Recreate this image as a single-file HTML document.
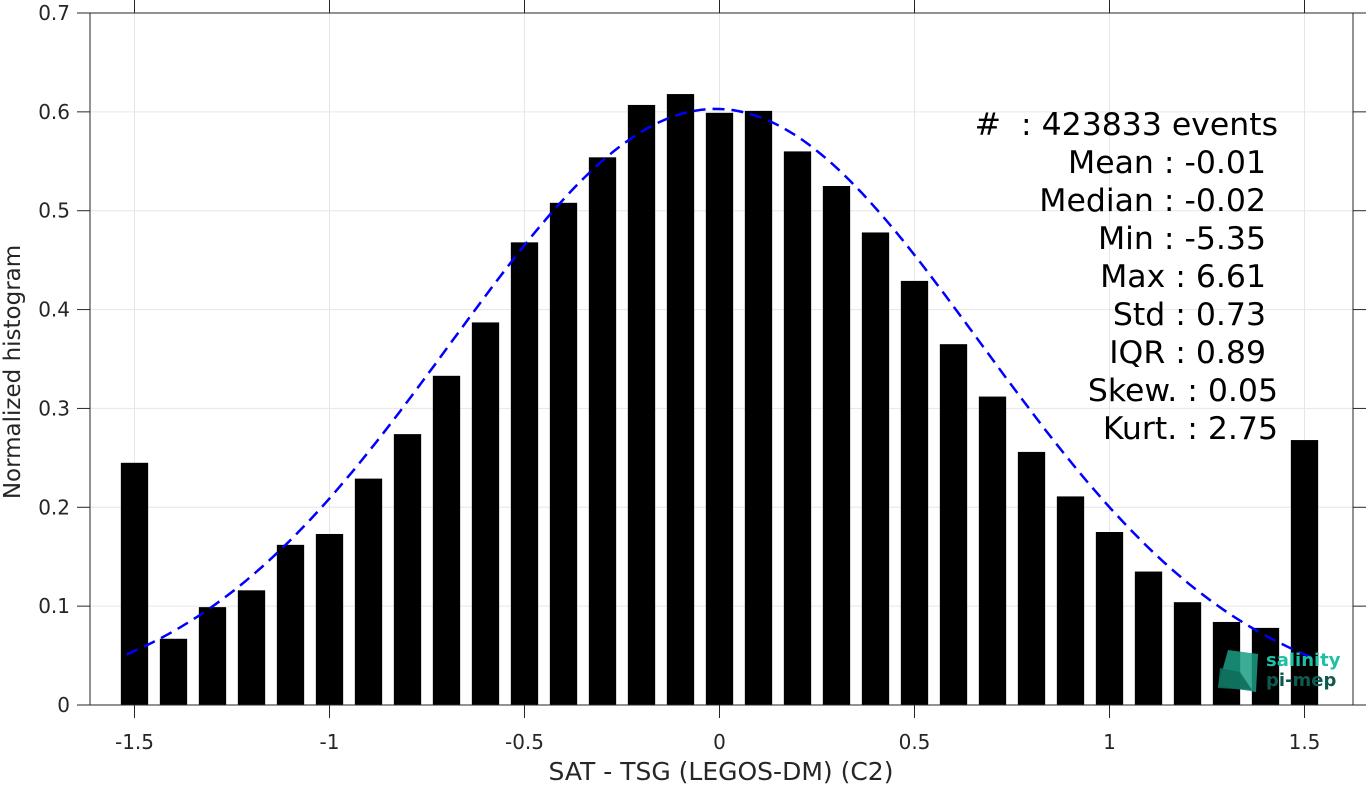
<!DOCTYPE html>
<html><head><meta charset="utf-8"><style>
html,body{margin:0;padding:0;background:#fff;}
svg{display:block;font-family:"DejaVu Sans","Liberation Sans",sans-serif;}
</style></head><body>
<svg id="chart" width="1367" height="785" viewBox="0 0 1367 785" xmlns="http://www.w3.org/2000/svg">
<g id="grid"></g>
<g id="bars"></g>
<path id="fit" fill="none" stroke="#0000ff" stroke-width="2.5" stroke-dasharray="12,7"/>
<g id="axes"></g>
<g font-size="31.5" fill="#000" text-anchor="end">
<text x="1278" y="135" style="white-space:pre">#  : 423833 events</text>
<text x="1266" y="173">Mean : -0.01</text>
<text x="1266" y="211">Median : -0.02</text>
<text x="1266" y="249">Min : -5.35</text>
<text x="1266" y="287">Max : 6.61</text>
<text x="1266" y="325">Std : 0.73</text>
<text x="1266" y="363">IQR : 0.89</text>
<text x="1278" y="401">Skew. : 0.05</text>
<text x="1278" y="439">Kurt. : 2.75</text>
</g>
<g>
<polygon points="1228,650 1258,654 1256,692 1218,686" fill="#1a9e85" opacity="0.85"/>
<polygon points="1220,668 1240,672 1252,690 1218,688" fill="#0f6e5c" opacity="0.9"/>
<text x="1266" y="666" font-size="18" font-weight="bold" fill="#1fbfa5">salinity</text>
<text x="1266" y="686" font-size="18" font-weight="bold" fill="#0f5a4e">pi-mep</text>
</g>
<text x="721" y="780" text-anchor="middle" font-size="25" fill="#262626">SAT - TSG (LEGOS-DM) (C2)</text>
<text transform="translate(20,372) rotate(-90)" text-anchor="middle" font-size="23" fill="#262626">Normalized histogram</text>
</svg>
<script>
const binCenters=[-1.5,-1.4,-1.3,-1.2,-1.1,-1.0,-0.9,-0.8,-0.7,-0.6,-0.5,-0.4,-0.3,-0.2,-0.1,0,0.1,0.2,0.3,0.4,0.5,0.6,0.7,0.8,0.9,1.0,1.1,1.2,1.3,1.4,1.5];
const binValues=[0.245,0.067,0.099,0.116,0.162,0.173,0.229,0.274,0.333,0.387,0.468,0.508,0.554,0.607,0.618,0.599,0.601,0.560,0.525,0.478,0.429,0.365,0.312,0.256,0.211,0.175,0.135,0.104,0.084,0.078,0.268];
const xTicks=[-1.5,-1,-0.5,0,0.5,1,1.5];
const xTickLabels=["-1.5","-1","-0.5","0","0.5","1","1.5"];
const yTicks=[0,0.1,0.2,0.3,0.4,0.5,0.6,0.7];
const yTickLabels=["0","0.1","0.2","0.3","0.4","0.5","0.6","0.7"];
const fitMean=-0.01, fitSigma=0.68, fitPeak=0.603, fitRange=[-1.52,1.52];

const L=90,R=1353,T=13,B=705;
const xs=v=>719.5+v*390;
const ys=v=>B-v*(B-T)/0.7;
const NS="http://www.w3.org/2000/svg";
function mk(tag,attrs,parent){const e=document.createElementNS(NS,tag);for(const k in attrs)e.setAttribute(k,attrs[k]);parent.appendChild(e);return e;}
const grid=document.getElementById('grid'),bars=document.getElementById('bars'),axes=document.getElementById('axes');
xTicks.forEach(t=>{const l=mk('line',{x1:xs(t),x2:xs(t),y1:T,y2:B,stroke:'#e6e6e6','stroke-width':1},grid);

});
yTicks.forEach(t=>{const l=mk('line',{x1:L,x2:R,y1:ys(t),y2:ys(t),stroke:'#e6e6e6','stroke-width':1},grid);

});
const bw=0.07*390;
binCenters.forEach((c,i)=>{const r=mk('rect',{x:xs(c)-bw/2,y:ys(binValues[i]),width:bw,height:B-ys(binValues[i]),fill:'#000'},bars);

});
let d='';const n=200;
for(let i=0;i<=n;i++){const x=fitRange[0]+(fitRange[1]-fitRange[0])*i/n;const y=fitPeak*Math.exp(-Math.pow(x-fitMean,2)/(2*fitSigma*fitSigma));d+=(i?'L':'M')+xs(x).toFixed(1)+','+ys(y).toFixed(1);}
document.getElementById('fit').setAttribute('d',d);
mk('rect',{x:L,y:T,width:R-L,height:B-T,fill:'none',stroke:'#262626','stroke-width':1},axes);
xTicks.forEach((t,i)=>{const x=xs(t);
mk('line',{x1:x,x2:x,y1:B,y2:B+13,stroke:'#262626'},axes);
mk('line',{x1:x,x2:x,y1:T,y2:T-13,stroke:'#262626'},axes);
const tx=mk('text',{x:x,y:B+44,'text-anchor':'middle','font-size':20,fill:'#262626'},axes);tx.textContent=xTickLabels[i];

});
yTicks.forEach((t,i)=>{const y=ys(t);
mk('line',{x1:L,x2:L-13,y1:y,y2:y,stroke:'#262626'},axes);
mk('line',{x1:R,x2:R+13,y1:y,y2:y,stroke:'#262626'},axes);
const tx=mk('text',{x:70,y:y+7,'text-anchor':'end','font-size':20,fill:'#262626'},axes);tx.textContent=yTickLabels[i];

});
</script>
</body></html>
